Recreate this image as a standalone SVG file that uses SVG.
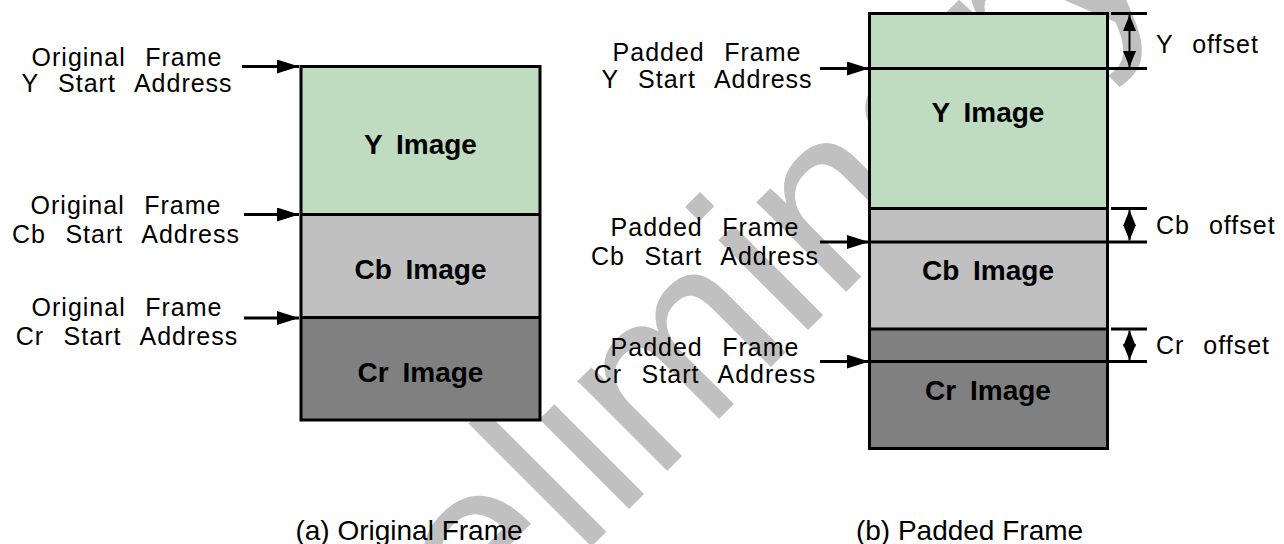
<svg xmlns="http://www.w3.org/2000/svg" width="1284" height="544" viewBox="0 0 1284 544">
<style>
.lbl{font-family:"Liberation Sans",Arial,sans-serif;font-size:25px;letter-spacing:1px;word-spacing:11.5px;fill:#000;text-anchor:middle}
.off{font-family:"Liberation Sans",Arial,sans-serif;font-size:25px;letter-spacing:1px;word-spacing:11px;fill:#000}
.img{font-family:"Liberation Sans",Arial,sans-serif;font-size:28px;font-weight:bold;word-spacing:6px;fill:#000;text-anchor:middle}
.cap{font-family:"Liberation Sans",Arial,sans-serif;font-size:28px;fill:#000;text-anchor:middle}
.wm{font-family:"Liberation Sans",Arial,sans-serif;font-size:240px;fill:#c0c0c0}
.y{fill:#c0dcc0}.cb{fill:#c0c0c0}.cr{fill:#808080}
.frame{fill:none;stroke:#000;stroke-width:3}
.ln{stroke:#000;stroke-width:3;fill:none}
.dbl{stroke:#000;stroke-width:2;fill:none;marker-start:url(#dh);marker-end:url(#dh)}
.arr{stroke:#000;stroke-width:3;fill:none;marker-end:url(#ah)}
</style>
<defs>
<marker id="ah" markerUnits="userSpaceOnUse" markerWidth="22" markerHeight="14" refX="22" refY="7" orient="auto"><path d="M0,0 L22,7 L0,14 z" fill="#000"/></marker>
<marker id="dh" markerUnits="userSpaceOnUse" markerWidth="16" markerHeight="13" refX="16" refY="6.5" orient="auto-start-reverse"><path d="M0,0 L16,6.5 L0,13 z" fill="#000"/></marker>
</defs>
<rect width="1284" height="544" fill="#fff"/>
<g id="watermark"><text class="wm" transform="translate(316,822) rotate(-45)">Preliminary</text></g>

<g id="original-frame">
<rect class="y" x="301" y="66.5" width="239" height="148"/>
<rect class="cb" x="301" y="214.5" width="239" height="103"/>
<rect class="cr" x="301" y="317.5" width="239" height="102.5"/>
<line class="ln" x1="301" y1="214.5" x2="540" y2="214.5"/>
<line class="ln" x1="301" y1="317.5" x2="540" y2="317.5"/>
<rect class="frame" x="301" y="66.5" width="239" height="353.5"/>
<text class="img" x="420.5" y="153.5">Y Image</text>
<text class="img" x="420.5" y="279">Cb Image</text>
<text class="img" x="420.5" y="381.5">Cr Image</text>
</g>

<g id="padded-frame">
<rect class="y" x="869.5" y="13.5" width="238" height="195"/>
<rect class="cb" x="869.5" y="208.5" width="238" height="120.5"/>
<rect class="cr" x="869.5" y="329" width="238" height="119.5"/>
<line class="ln" x1="869.5" y1="208.5" x2="1107.5" y2="208.5"/>
<line class="ln" x1="869.5" y1="329" x2="1107.5" y2="329"/>
<rect class="frame" x="869.5" y="13.5" width="238" height="435"/>
<text class="img" x="988" y="121.5">Y Image</text>
<text class="img" x="988" y="280">Cb Image</text>
<text class="img" x="988" y="400">Cr Image</text>
</g>

<g id="label-orig-y"><text class="lbl" y="65.5"><tspan x="127">Original Frame</tspan><tspan x="127" y="92">Y Start Address</tspan></text></g>
<g id="label-orig-cb"><text class="lbl" y="213.5"><tspan x="126">Original Frame</tspan><tspan x="126" y="242.5">Cb Start Address</tspan></text></g>
<g id="label-orig-cr"><text class="lbl" y="315.5"><tspan x="127">Original Frame</tspan><tspan x="127" y="345">Cr Start Address</tspan></text></g>

<g id="label-pad-y"><text class="lbl" y="61"><tspan x="707">Padded Frame</tspan><tspan x="707" y="88">Y Start Address</tspan></text></g>
<g id="label-pad-cb"><text class="lbl" y="236"><tspan x="705">Padded Frame</tspan><tspan x="705" y="264.5">Cb Start Address</tspan></text></g>
<g id="label-pad-cr"><text class="lbl" y="356"><tspan x="705">Padded Frame</tspan><tspan x="705" y="383">Cr Start Address</tspan></text></g>

<g id="offset-labels">
<text class="off" x="1156" y="53">Y offset</text>
<text class="off" x="1156" y="233.5">Cb offset</text>
<text class="off" x="1156" y="354">Cr offset</text>
</g>

<g id="captions">
<text class="cap" x="409" y="540">(a) Original Frame</text>
<text class="cap" x="969.5" y="540">(b) Padded Frame</text>
</g>

<g id="connectors">
<line class="arr" x1="242" y1="66.5" x2="299" y2="66.5"/>
<line class="arr" x1="244" y1="214.5" x2="299" y2="214.5"/>
<line class="arr" x1="244" y1="318" x2="299" y2="318"/>
<line class="arr" x1="820" y1="68.5" x2="869" y2="68.5"/>
<line class="arr" x1="820" y1="242" x2="869" y2="242"/>
<line class="arr" x1="820" y1="361.5" x2="869" y2="361.5"/>
<line class="ln" x1="869.5" y1="68.5" x2="1147" y2="68.5"/>
<line class="ln" x1="869.5" y1="242" x2="1147" y2="242"/>
<line class="ln" x1="869.5" y1="361.5" x2="1147" y2="361.5"/>
<line class="ln" x1="1111" y1="13.5" x2="1147" y2="13.5"/>
<line class="ln" x1="1111" y1="208.5" x2="1147" y2="208.5"/>
<line class="ln" x1="1111" y1="329" x2="1147" y2="329"/>
<line class="dbl" x1="1129.5" y1="15" x2="1129.5" y2="67"/>
<line class="dbl" x1="1129.5" y1="210" x2="1129.5" y2="240.5"/>
<line class="dbl" x1="1129.5" y1="330.5" x2="1129.5" y2="360"/>
</g>
</svg>
